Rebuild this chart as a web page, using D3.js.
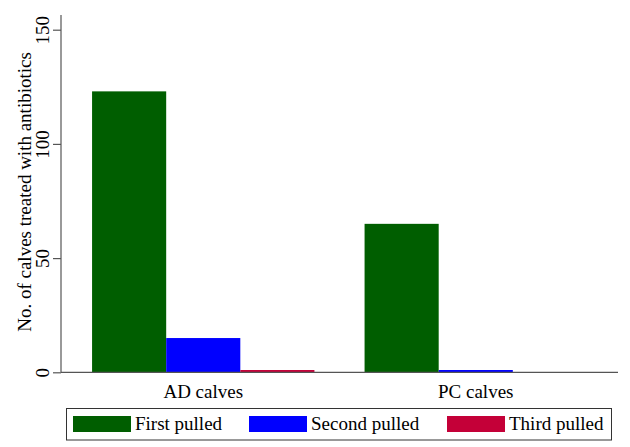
<!DOCTYPE html>
<html>
<head>
<meta charset="utf-8">
<script src="https://cdn.jsdelivr.net/npm/d3@7"></script>
<style>
  body { margin: 0; background: #fff; }
  svg text { font-family: "Liberation Serif", "Times New Roman", serif; }
</style>
</head>
<body>
<div id="chart"></div>
<script>
// data
const groups = ["AD calves", "PC calves"];
const series = ["First pulled", "Second pulled", "Third pulled"];
const firstPulled = [123, 65];
const secondPulled = [15, 1];
const thirdPulled = [1, 0];
const yTicks = [0, 50, 100, 150];
const colors = ["#005e00", "#0000ff", "#c40038"];

const width = 630, height = 447;
const values = [firstPulled, secondPulled, thirdPulled];

let svg = d3.select("#chart")
    .append("svg")
    .attr("width", width)
    .attr("height", height);

// scales
let x0 = d3.scaleBand()
    .domain(groups)
    .range([61, 618])
    .paddingInner(0.184)
    .paddingOuter(0.114);

let x1 = d3.scaleBand()
    .domain(series)
    .range([0, x0.bandwidth()]);

let y = d3.scaleLinear()
    .domain([0, 150])
    .range([372.3, 29.7]);

// bars
groups.forEach(function(g, gi) {
    svg.append("g")
        .attr("transform", `translate(${x0(g)},0)`)
        .selectAll("rect")
        .data(series.map(function(s, si) { return {s: s, v: values[si][gi], i: si}; }))
        .enter()
        .append("rect")
        .attr("x", d => x1(d.s))
        .attr("width", x1.bandwidth())
        .attr("y", d => y(d.v))
        .attr("height", d => y(0) - y(d.v))
        .attr("fill", d => colors[d.i]);
});

// y axis
let yAxis = svg.append("g")
    .attr("transform", "translate(61,0)")
    .call(d3.axisLeft(y).tickValues(yTicks).tickSize(8).tickPadding(0).tickFormat(d3.format("d")));
yAxis.select(".domain").remove();
yAxis.selectAll(".tick line").attr("stroke", "#555").attr("stroke-width", 1.2);
yAxis.selectAll(".tick text")
    .attr("transform", "translate(-19,0) rotate(-90)")
    .attr("x", 0).attr("y", 0).attr("dy", "0.35em")
    .style("text-anchor", "middle")
    .style("font-size", "19px")
    .attr("fill", "#000");
svg.append("line")
    .attr("x1", 61).attr("x2", 61)
    .attr("y1", 15).attr("y2", y(0))
    .attr("stroke", "#555").attr("stroke-width", 1.2);

// x axis
svg.append("line")
    .attr("x1", 61).attr("x2", 618)
    .attr("y1", y(0)).attr("y2", y(0))
    .attr("stroke", "#555").attr("stroke-width", 1.2);

svg.selectAll(".glabel")
    .data(groups)
    .enter()
    .append("text")
    .attr("class", "glabel")
    .attr("x", d => x0(d) + x0.bandwidth() / 2)
    .attr("y", 398)
    .style("text-anchor", "middle")
    .style("font-size", "19px")
    .text(d => d);

// y title
svg.append("text")
    .attr("transform", "translate(31,192) rotate(-90)")
    .style("text-anchor", "middle")
    .style("font-size", "19px")
    .text("No. of calves treated with antibiotics");

// legend
svg.append("rect")
    .attr("x", 66.5).attr("y", 408.5)
    .attr("width", 545).attr("height", 31.5)
    .attr("fill", "none")
    .attr("stroke", "#333");

const legendX = [73, 249, 447];
let legend = svg.selectAll(".leg")
    .data(series)
    .enter()
    .append("g")
    .attr("transform", (d, i) => `translate(${legendX[i]},416)`);
legend.append("rect")
    .attr("width", 58).attr("height", 16)
    .attr("fill", (d, i) => colors[i]);
legend.append("text")
    .attr("x", 62).attr("y", 14)
    .style("font-size", "19px")
    .text(d => d);
</script>
</body>
</html>
